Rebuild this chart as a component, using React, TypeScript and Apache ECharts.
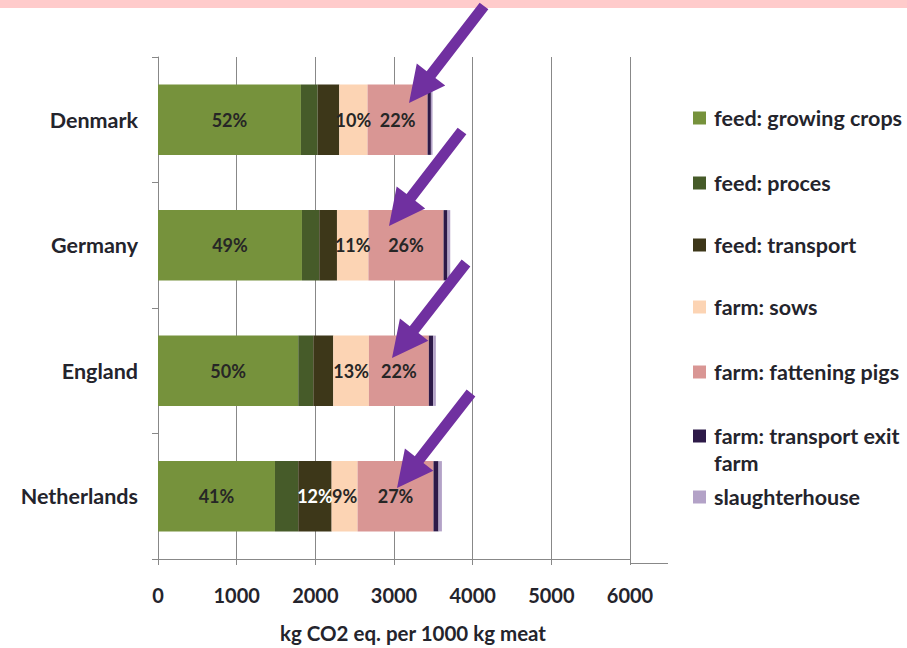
import React, { useEffect, useRef } from "react";
import * as echarts from "echarts";

// Countries, top to bottom
const countries = ["Denmark", "Germany", "England", "Netherlands"];

// Life-cycle stages in stacking order
const stages = [
  "feed: growing crops",
  "feed: proces",
  "feed: transport",
  "farm: sows",
  "farm: fattening pigs",
  "farm: transport exit farm",
  "slaughterhouse",
];

// kg CO2 eq. per 1000 kg meat, one value per country (same order as countries)
const growingCrops = [1817, 1830, 1783, 1487];
const feedProces = [212, 220, 191, 296];
const feedTransport = [275, 225, 254, 424];
const farmSows = [360, 400, 453, 330];
const fatteningPigs = [763, 955, 762, 965];
const transportExitFarm = [42, 50, 55, 64];
const slaughterhouse = [21, 35, 34, 43];

const stageValues = [
  growingCrops,
  feedProces,
  feedTransport,
  farmSows,
  fatteningPigs,
  transportExitFarm,
  slaughterhouse,
];

// Value axis ticks
const xMin = 0;
const xMax = 6000;
const xStep = 1000;

const stageColors = ["#76923C", "#465B29", "#3D3719", "#FCD4B4", "#D99694", "#2D1A48", "#B3A2C7"];
const labelColors = ["#262626", "#262626", "#FFFFFF", "#262626", "#262626", "#262626", "#262626"];

// Shares below this percentage are left unlabelled
const minLabelShare = 9;

// Legend entry centres (y) on the right-hand side
const legendCentres = [118, 183, 245, 307, 372, 436, 497];

// Annotation arrows: tail x, tail y, tip x, tip y
const arrows = [
  [484, 6, 409, 103],
  [462, 131, 389, 226],
  [466, 263, 392, 358],
  [471, 393, 397, 488],
];

const FONT = "Lato, 'Open Sans', sans-serif";
const TEXT = "#24242C";
const AXIS = "#888888";

// The long legend entry wraps: first part beside the marker, rest on the next line
const WRAPPED = "farm: transport exit farm";
const WRAP_FIRST = "farm: transport exit";
const WRAP_REST = "farm";

const totals = countries.map((_, c) => stageValues.reduce((s, arr) => s + arr[c], 0));

function arrowPolygon(tx: number, ty: number, px: number, py: number) {
  const dx = px - tx;
  const dy = py - ty;
  const len = Math.hypot(dx, dy);
  const ux = dx / len;
  const uy = dy / len;
  const nx = -uy;
  const ny = ux;
  const shaft = 5.5;
  const head = 18;
  const headLen = 36;
  const bx = px - ux * headLen;
  const by = py - uy * headLen;
  return [
    [tx + nx * shaft, ty + ny * shaft],
    [bx + nx * shaft, by + ny * shaft],
    [bx + nx * head, by + ny * head],
    [px, py],
    [bx - nx * head, by - ny * head],
    [bx - nx * shaft, by - ny * shaft],
    [tx - nx * shaft, ty - ny * shaft],
  ];
}

export default function App() {
  const ref = useRef<HTMLDivElement>(null);

  useEffect(() => {
    document.body.style.margin = "0";
    if (!ref.current) return;
    const chart = echarts.init(ref.current, undefined, { renderer: "svg" });

    const series = stages.map((name, s) => ({
      name,
      type: "bar",
      stack: "total",
      barWidth: "56%",
      data: stageValues[s],
      itemStyle: { color: stageColors[s] },
      label: {
        show: true,
        position: "inside",
        fontFamily: FONT,
        fontWeight: "bold",
        fontSize: 18,
        color: labelColors[s],
        formatter: (p: any) => {
          const share = Math.round((p.value / totals[p.dataIndex]) * 100);
          return share >= minLabelShare ? `${share}%` : "";
        },
      },
    }));

    const legendText = {
      fontFamily: FONT,
      fontWeight: "bold" as const,
      fontSize: 21.5,
      color: TEXT,
    };

    // One legend per entry so each sits on its own row
    const legends = stages.map((name, i) => ({
      data: [name],
      orient: "vertical",
      left: 693,
      top: legendCentres[i] - 13,
      padding: 0,
      icon: "rect",
      itemWidth: 13,
      itemHeight: 13,
      selectedMode: false,
      formatter: (n: string) => (n === WRAPPED ? WRAP_FIRST : n),
      textStyle: { ...legendText, lineHeight: 26, padding: [0, 0, 0, 3] },
    }));

    const wrappedIndex = stages.indexOf(WRAPPED);

    const graphics: any[] = [
      {
        type: "rect",
        shape: { x: 0, y: 0, width: 907, height: 8 },
        style: { fill: "#FFCBCB" },
        z: 1,
      },
      {
        // value axis line runs a little past the last tick
        type: "line",
        shape: { x1: 630, y1: 563.5, x2: 668, y2: 563.5 },
        style: { stroke: AXIS, lineWidth: 1 },
      },
      {
        // continuation line of the wrapped legend entry
        type: "text",
        x: 714,
        y: legendCentres[wrappedIndex] + 27,
        style: {
          text: WRAP_REST,
          font: `bold 21.5px ${FONT}`,
          fill: TEXT,
          verticalAlign: "middle",
          align: "left",
        },
      },
      ...arrows.map(([tx, ty, px, py]) => ({
        type: "polygon",
        shape: { points: arrowPolygon(tx, ty, px, py) },
        style: { fill: "#7030A0" },
        z: 10,
      })),
    ];

    chart.setOption({
      animation: false,
      backgroundColor: "#FFFFFF",
      grid: { left: 158, right: 277, top: 57, bottom: 85, containLabel: false },
      xAxis: {
        type: "value",
        min: xMin,
        max: xMax,
        interval: xStep,
        name: "kg CO2 eq. per 1000 kg meat",
        nameLocation: "middle",
        nameGap: 63,
        nameTextStyle: {
          fontFamily: FONT,
          fontWeight: "bold",
          fontSize: 20.5,
          color: TEXT,
          padding: [0, 0, 0, 38],
        },
        axisLine: { show: true, lineStyle: { color: AXIS } },
        axisTick: { show: true, length: 6, lineStyle: { color: AXIS } },
        splitLine: { show: true, lineStyle: { color: AXIS, width: 1 } },
        axisLabel: {
          fontFamily: FONT,
          fontWeight: "bold",
          fontSize: 20,
          color: TEXT,
          margin: 26,
          formatter: (v: number) => String(v),
        },
      },
      yAxis: {
        type: "category",
        data: countries,
        inverse: true,
        axisLine: { show: true, lineStyle: { color: AXIS } },
        axisTick: { show: true, length: 6, lineStyle: { color: AXIS } },
        axisLabel: {
          fontFamily: FONT,
          fontWeight: "bold",
          fontSize: 21.5,
          color: TEXT,
          margin: 20,
        },
      },
      legend: legends,
      series,
      graphic: graphics,
    });

    return () => chart.dispose();
  }, []);

  return <div ref={ref} style={{ width: 907, height: 648 }} />;
}
